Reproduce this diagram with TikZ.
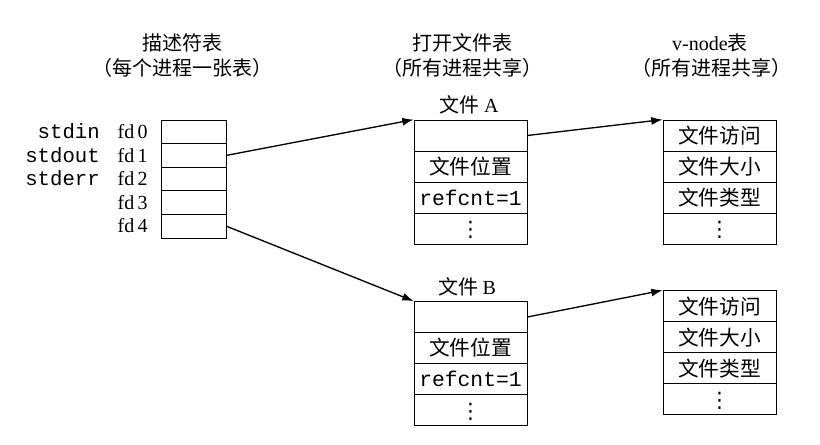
\documentclass[tikz,border=0pt]{standalone}
\usepackage{fontspec}
\setmainfont{Liberation Serif}
\setmonofont{Liberation Mono}
\newfontfamily\cjk{Noto Sans CJK SC}
\newfontfamily\symf{DejaVu Sans}
\usetikzlibrary{arrows.meta,positioning}

\begin{document}
\begin{tikzpicture}[x=0.75pt,y=-0.75pt,
    fdc/.style={rectangle,draw,line width=0.6pt,minimum width=48.75pt,minimum height=17.7pt,inner sep=0pt},
    cell/.style={rectangle,draw,line width=0.6pt,minimum width=84.75pt,minimum height=23.25pt,inner sep=0pt,font=\cjk\fontsize{15.5}{18}\selectfont},
    ttl/.style={font=\cjk\fontsize{15}{18}\selectfont,inner sep=0pt},
    lbl/.style={font=\fontsize{15}{18}\selectfont,inner sep=0pt,anchor=east,text height=10pt,text depth=0pt},
    std/.style={font=\ttfamily\fontsize{15.5}{18}\selectfont,inner sep=0pt,anchor=east,text height=10pt,text depth=0pt},
    cnt/.style={font=\ttfamily\fontsize{16}{18}\selectfont},
    dots/.style={font=\symf\fontsize{16}{16}\selectfont,text height=12pt,text depth=0pt},
    arr/.style={-{Latex[length=8.5pt,width=6pt]},line width=1pt},
]
\useasboundingbox (0,0) rectangle (820,445);

% Titles
\node[ttl] (ttfd) at (182.5,43) {描述符表};
\node[ttl] (ttfd2) at (182,68) {（每个进程一张表）};
\node[ttl] (ttof) at (462,43) {打开文件表};
\node[ttl] (ttof2) at (462,68) {（所有进程共享）};
\node[ttl] (ttvn) at (710,43) {\rmfamily v-node{\cjk 表}};
\node[ttl] (ttvn2) at (711,68) {（所有进程共享）};

% Descriptor table
\node[fdc] (d0) at (193.5,131.8) {};
\node[fdc] (d1) at (193.5,155.4) {};
\node[fdc] (d2) at (193.5,179.0) {};
\node[fdc] (d3) at (193.5,202.6) {};
\node[fdc] (d4) at (193.5,226.2) {};
\node[lbl] (f0) at (148,131.8) {fd\,0};
\node[lbl] (f1) at (148,155.4) {fd\,1};
\node[lbl] (f2) at (148,179.0) {fd\,2};
\node[lbl] (f3) at (148,202.6) {fd\,3};
\node[lbl] (f4) at (148,226.2) {fd\,4};
\node[std] (sin) at (100,131.8) {stdin};
\node[std] (sout) at (100,155.4) {stdout};
\node[std] (serr) at (100,179.0) {stderr};

% Open file table
\node[ttl] (nA) at (469,105) {文件 {\rmfamily A}};
\node[cell] (fA1) at (470.5,135.5) {};
\node[cell] (fA2) at (470.5,166.5) {文件位置};
\node[cell,cnt] (fA3) at (470.5,197.5) {refcnt=1};
\node[cell,dots] (fA4) at (470.5,228.5) {⋮};
\node[ttl] (nB) at (467,287) {文件 {\rmfamily B}};
\node[cell] (fB1) at (470.5,317) {};
\node[cell] (fB2) at (470.5,348) {文件位置};
\node[cell,cnt] (fB3) at (470.5,379) {refcnt=1};
\node[cell,dots] (fB4) at (470.5,410) {⋮};

% v-node table
\node[cell] (vA1) at (719.5,135.5) {文件访问};
\node[cell] (vA2) at (719.5,166.5) {文件大小};
\node[cell] (vA3) at (719.5,197.5) {文件类型};
\node[cell,dots] (vA4) at (719.5,228.5) {⋮};
\node[cell] (vB1) at (719.5,306.2) {文件访问};
\node[cell] (vB2) at (719.5,337.2) {文件大小};
\node[cell] (vB3) at (719.5,368.2) {文件类型};
\node[cell,dots] (vB4) at (719.5,399.2) {⋮};

% Arrows
\draw[arr] (d1.east) -- (fA1.north west);
\draw[arr] (d4.east) -- (fB1.north west);
\draw[arr] (fA1.east) -- (vA1.north west);
\draw[arr] (fB1.east) -- (vB1.north west);
\end{tikzpicture}
\end{document}
